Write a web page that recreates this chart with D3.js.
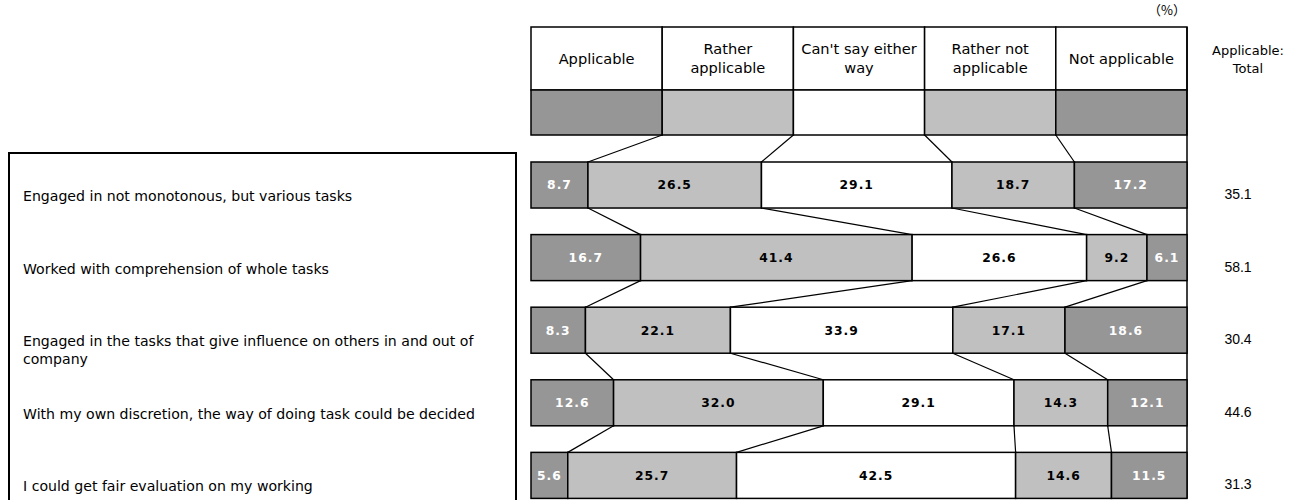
<!DOCTYPE html>
<html>
<head>
<meta charset="utf-8">
<script src="https://cdn.jsdelivr.net/npm/d3@7"></script>
<style>
  body { margin: 0; background: #fff; }
</style>
</head>
<body>
<div id="chart"></div>
<script>
// answer categories, left to right
var categories = ["Applicable", "Rather applicable", "Can't say either way", "Rather not applicable", "Not applicable"];
var headerLines = [["Applicable"], ["Rather", "applicable"], ["Can't say either", "way"], ["Rather not", "applicable"], ["Not applicable"]];

// survey items, top to bottom
var items = [
  "Engaged in not monotonous, but various tasks",
  "Worked with comprehension of whole tasks",
  "Engaged in the tasks that give influence on others in and out of company",
  "With my own discretion, the way of doing task could be decided",
  "I could get fair evaluation on my working"
];
var itemLines = [
  ["Engaged in not monotonous, but various tasks"],
  ["Worked with comprehension of whole tasks"],
  ["Engaged in the tasks that give influence on others in and out of", "company"],
  ["With my own discretion, the way of doing task could be decided"],
  ["I could get fair evaluation on my working"]
];

// series values (%)
var applicable        = [8.7, 16.7, 8.3, 12.6, 5.6];
var ratherApplicable  = [26.5, 41.4, 22.1, 32.0, 25.7];
var cantSay           = [29.1, 26.6, 33.9, 29.1, 42.5];
var ratherNot         = [18.7, 9.2, 17.1, 14.3, 14.6];
var notApplicable     = [17.2, 6.1, 18.6, 12.1, 11.5];
var applicableTotal   = [35.1, 58.1, 30.4, 44.6, 31.3];

var series = [applicable, ratherApplicable, cantSay, ratherNot, notApplicable];
var fills = ["#969696", "#c0c0c0", "#ffffff", "#c0c0c0", "#969696"];
var textFills = ["#ffffff", "#000000", "#000000", "#000000", "#ffffff"];

var width = 1307, height = 500;

var svg = d3.select("#chart").append("svg")
    .attr("width", width)
    .attr("height", height);

var x = d3.scaleLinear().domain([0, 100]).range([531, 1187]);

var y = d3.scaleBand()
    .domain(d3.range(items.length))
    .range([162, 498.4])
    .paddingInner(0.366)
    .paddingOuter(0);

var bw = y.bandwidth();

// build stacked rows, normalised to 100 like a 100% stacked bar
var rows = items.map(function(name, i) {
  var vals = series.map(s => s[i]);
  var sum = d3.sum(vals);
  var acc = 0;
  var segs = vals.map(function(v, k) {
    var s = {k: k, v: v, x0: acc / sum * 100};
    acc += v;
    s.x1 = acc / sum * 100;
    return s;
  });
  return {i: i, segs: segs};
});

var headTop = 27, headMid = 90, headBot = 135;

// (%) unit label
svg.append("text")
    .attr("x", 1186)
    .attr("y", 15)
    .attr("text-anchor", "end")
    .style("font-family", "'Noto Sans CJK JP', sans-serif")
    .style("font-size", "13px")
    .text("（%）");

// header cells
var head = svg.append("g");
categories.forEach(function(c, k) {
  var x0 = x(k * 20), x1 = x((k + 1) * 20);
  head.append("rect")
      .attr("x", x0).attr("y", headTop)
      .attr("width", x1 - x0).attr("height", headMid - headTop)
      .attr("fill", "#fff").attr("stroke", "#000").attr("stroke-width", 1.5);
  head.append("rect")
      .attr("x", x0).attr("y", headMid)
      .attr("width", x1 - x0).attr("height", headBot - headMid)
      .attr("fill", fills[k]).attr("stroke", "#000").attr("stroke-width", 1.5);
  var lines = headerLines[k];
  var cy = (headTop + headMid) / 2;
  lines.forEach(function(t, j) {
    head.append("text")
        .attr("x", (x0 + x1) / 2)
        .attr("y", cy + (j - (lines.length - 1) / 2) * 19)
        .attr("dy", "0.35em")
        .attr("text-anchor", "middle")
        .style("font-family", "'DejaVu Sans', sans-serif")
        .style("font-size", "14.6px")
        .text(t);
  });
});

// outer frame line on the right, running down past the bars
svg.append("line")
    .attr("x1", x(100)).attr("x2", x(100))
    .attr("y1", headTop).attr("y2", y(items.length - 1) + bw)
    .attr("stroke", "#000").attr("stroke-width", 1.5);

// total column header
["Applicable:", "Total"].forEach(function(t, j) {
  svg.append("text")
      .attr("x", 1248)
      .attr("y", 50 + j * 18)
      .attr("dy", "0.35em")
      .attr("text-anchor", "middle")
      .style("font-family", "'DejaVu Sans', sans-serif")
      .style("font-size", "13px")
      .text(t);
});

// connector lines between rows
var links = [];
for (var k = 1; k < categories.length; k++) {
  links.push({x1: x(k * 20), y1: headBot, x2: x(rows[0].segs[k].x0), y2: y(0)});
  for (var r = 0; r < rows.length - 1; r++) {
    links.push({
      x1: x(rows[r].segs[k].x0), y1: y(r) + bw,
      x2: x(rows[r + 1].segs[k].x0), y2: y(r + 1)
    });
  }
}
svg.append("g").selectAll("line")
    .data(links)
    .join("line")
    .attr("x1", d => d.x1).attr("y1", d => d.y1)
    .attr("x2", d => d.x2).attr("y2", d => d.y2)
    .attr("stroke", "#000").attr("stroke-width", 1.2);

// bars
var rowG = svg.append("g").selectAll("g")
    .data(rows)
    .join("g")
    .attr("transform", d => "translate(0," + y(d.i) + ")");

rowG.selectAll("rect")
    .data(d => d.segs)
    .join("rect")
    .attr("x", d => x(d.x0))
    .attr("width", d => x(d.x1) - x(d.x0))
    .attr("height", bw)
    .attr("fill", d => fills[d.k])
    .attr("stroke", "#000")
    .attr("stroke-width", 1.5);

rowG.selectAll("text")
    .data(d => d.segs)
    .join("text")
    .attr("x", d => (x(d.x0) + x(d.x1)) / 2)
    .attr("y", bw / 2)
    .attr("dy", "0.35em")
    .attr("text-anchor", "middle")
    .attr("fill", d => textFills[d.k])
    .style("font-family", "'DejaVu Sans', sans-serif")
    .style("font-weight", "bold")
    .style("font-size", "12.3px")
    .style("letter-spacing", "1px")
    .text(d => d.v.toFixed(1));

// applicable total column
svg.append("g").selectAll("text")
    .data(applicableTotal)
    .join("text")
    .attr("x", 1238)
    .attr("y", (d, i) => y(i) + bw / 2 + 9)
    .attr("dy", "0.35em")
    .attr("text-anchor", "middle")
    .style("font-family", "'Liberation Sans', sans-serif")
    .style("font-size", "14px")
    .text(d => d.toFixed(1));

// item label box
svg.append("rect")
    .attr("x", 9).attr("y", 153)
    .attr("width", 507).attr("height", 360)
    .attr("fill", "none").attr("stroke", "#000").attr("stroke-width", 2);

itemLines.forEach(function(lines, i) {
  lines.forEach(function(t, j) {
    svg.append("text")
        .attr("x", 23)
        .attr("y", y(i) + bw / 2 + 11 + j * 18)
        .attr("dy", "0.35em")
        .style("font-family", "'DejaVu Sans', sans-serif")
        .style("font-size", "14.1px")
        .text(t);
  });
});
</script>
</body>
</html>
